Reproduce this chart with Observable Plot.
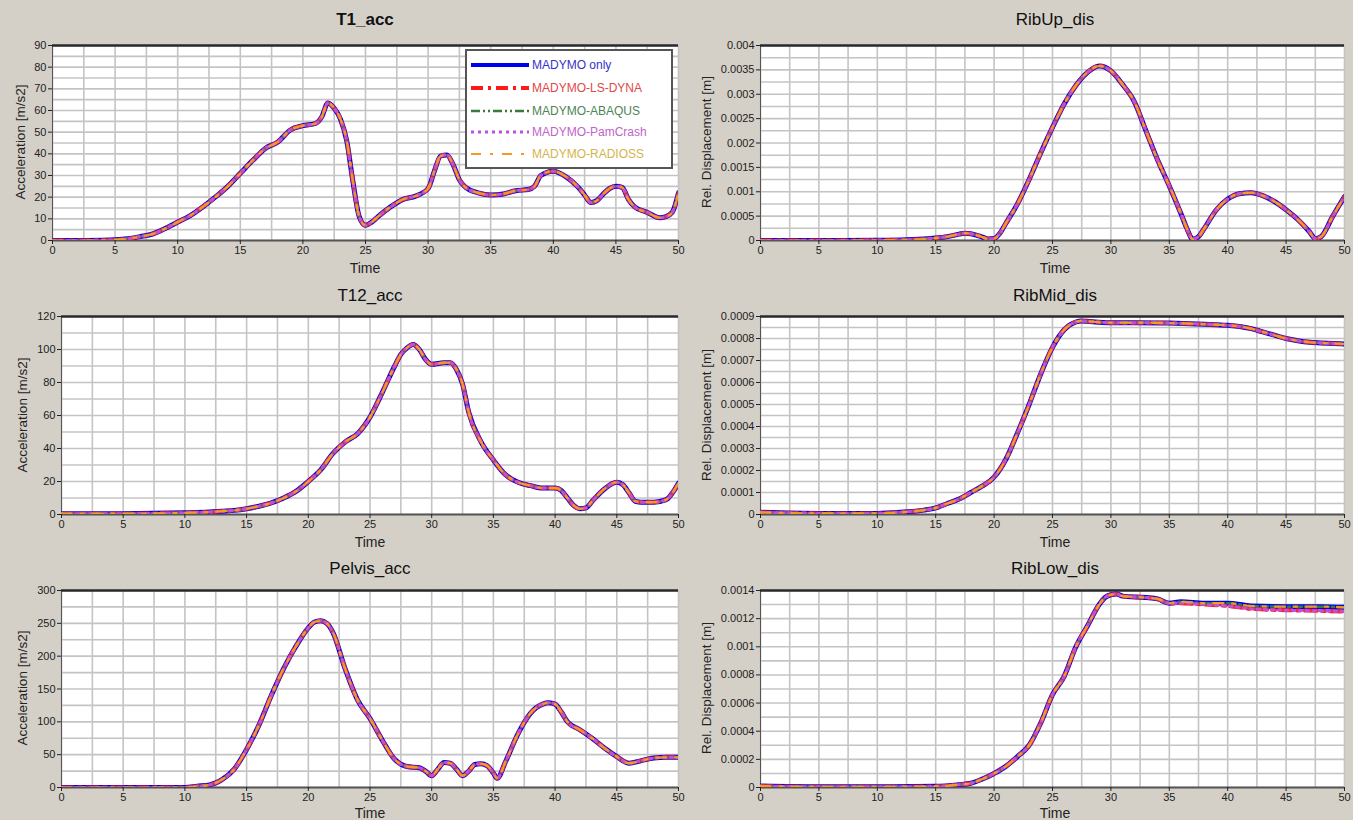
<!DOCTYPE html>
<html><head><meta charset="utf-8">
<script src="https://cdn.jsdelivr.net/npm/d3@7"></script>
<script src="https://cdn.jsdelivr.net/npm/@observablehq/plot@0.6"></script>
<style>
html,body{margin:0;padding:0;overflow:hidden;background:#d4d0c8;}
#root{position:relative;width:1353px;height:820px;overflow:hidden;background:#d4d0c8;font-family:"Liberation Sans",Arial,sans-serif;}
.title{position:absolute;font-size:17px;color:#111;transform:translate(-50%,-50%);white-space:nowrap;}
.xl{position:absolute;font-size:14px;color:#222;transform:translate(-50%,-50%);white-space:nowrap;}
.yl{position:absolute;font-size:13.5px;color:#222;transform:translate(-50%,-50%) rotate(-90deg);white-space:nowrap;}
.legend{position:absolute;background:#fff;border:2px solid #555;box-sizing:border-box;}
.lrow{position:absolute;left:2px;height:14px;display:flex;align-items:center;}
.lrow span{font-size:12px;margin-left:3px;white-space:nowrap;}
</style></head><body><div id="root"></div>
<script>
// ---------- series ----------
const seriesNames = ["MADYMO only", "MADYMO-LS-DYNA", "MADYMO-ABAQUS", "MADYMO-PamCrash", "MADYMO-RADIOSS"];
const seriesColors = ["#0000f0", "#ff1a1a", "#3a7a3a", "#c050d8", "#f59a20"];
const legendTextColors = ["#3333c8", "#e04848", "#4d8455", "#c064c8", "#d4b44a"];
const seriesDash = [null, "12,5,3,5", "9,3,2,3,2,3", "3,4", "10,9,3,9"];
const seriesWidth = [5, 4, 2.5, 3, 2.2];

// ---------- tick labels ----------
const timeTicks = [0, 5, 10, 15, 20, 25, 30, 35, 40, 45, 50];
const t1Ticks = [0, 10, 20, 30, 40, 50, 60, 70, 80, 90];
const t12Ticks = [0, 20, 40, 60, 80, 100, 120];
const pelvisTicks = [0, 50, 100, 150, 200, 250, 300];
const ribUpTicks = [0, 0.0005, 0.001, 0.0015, 0.002, 0.0025, 0.003, 0.0035, 0.004];
const ribMidTicks = [0, 0.0001, 0.0002, 0.0003, 0.0004, 0.0005, 0.0006, 0.0007, 0.0008, 0.0009];
const ribLowTicks = [0, 0.0002, 0.0004, 0.0006, 0.0008, 0.001, 0.0012, 0.0014];

// ---------- values [time, value] ----------
const t1Acc = [[0,0],[2,0],[4,0.1],[5,0.3],[6,0.8],[7,1.8],[8,3],[9,5.5],[10,8.5],[11,11.5],[12,15.5],[13,20],[14,25],[15,31],[16,37],[17,42.5],[18,45.5],[19,51],[20,53],[21,54],[21.5,57],[22,63.5],[22.5,61],[23,56],[23.5,46],[24,27],[24.5,11],[25,7],[25.5,8.5],[26,11],[27,15.5],[28,19],[29,20.5],[30,24],[30.5,32],[31,39],[31.5,39.5],[32,35],[32.5,28],[33,24.5],[34,22],[35,21],[36,21.5],[37,23],[38,23.5],[38.5,25],[39,30],[40,32],[41,29.5],[42,24.5],[42.5,21],[43,17.5],[43.5,18.5],[44,21.5],[44.5,24],[45,25],[45.5,24.5],[46,19],[46.5,15.5],[47.5,13],[48.5,10.5],[49,11],[49.5,13],[50,22]];
const ribUpDis = [[0,0],[5,0],[10,0.000005],[12,0.00001],[14,0.00003],[15,0.00005],[16,0.00008],[17,0.00013],[17.5,0.00015],[18,0.00014],[19,0.00007],[19.5,0.00003],[20,0.00004],[20.5,0.00015],[21,0.00035],[22,0.00075],[23,0.00125],[24,0.0018],[25,0.00232],[26,0.0028],[27,0.00318],[28,0.00345],[29,0.00358],[30,0.00348],[31,0.0032],[32,0.00285],[33,0.00225],[34,0.00165],[35,0.00112],[36,0.00055],[36.5,0.00025],[37,0.00003],[37.5,0.00008],[38,0.00025],[39,0.00062],[40,0.00085],[41,0.00096],[42,0.00098],[43,0.00092],[44,0.0008],[45,0.00063],[46,0.00043],[47,0.00018],[47.5,0.00004],[48,0.00008],[49,0.0005],[50,0.0009]];
const t12Acc = [[0,0.5],[5,0.5],[10,1],[12,1.5],[13,2],[14,2.5],[15,3.5],[16,5],[17,7],[18,10],[19,14],[20,20],[21,27],[22,37],[23,44],[24,49],[25,59],[26,74],[27,90],[27.5,97],[28,101],[28.5,103],[29,100],[29.5,94],[30,91],[31,92],[31.5,92],[32,88],[32.5,79],[33,62],[34,44],[35,33],[36,24],[37,19.5],[38,17.5],[39,16],[40,16],[40.5,14.5],[41,10],[41.5,5.5],[42,3.5],[42.5,4],[43,8],[44,15.5],[45,19.5],[45.5,18],[46,13],[46.5,8],[47,7.5],[48,7.5],[49,9],[49.5,13],[50,19]];
const ribMidDis = [[0,0.00001],[5,0.000005],[10,0.000005],[12,0.00001],[14,0.00002],[15,0.00003],[16,0.00005],[17,0.00007],[18,0.0001],[19,0.00013],[20,0.00017],[21,0.00025],[22,0.00037],[23,0.0005],[24,0.00064],[25,0.00076],[26,0.00084],[27,0.000875],[27.5,0.00088],[28,0.000878],[30,0.000872],[32,0.000872],[35,0.00087],[38,0.000865],[40,0.00086],[41,0.000855],[42,0.000845],[43,0.00083],[44,0.000815],[45,0.0008],[46,0.00079],[47,0.000783],[48,0.00078],[50,0.000775]];
const pelvisAcc = [[0,0],[5,0],[10,0],[11,2],[12,4],[12.5,7],[13,12],[14,28],[15,58],[16,95],[17,140],[18,181],[19,215],[20,243],[20.5,252],[21,254],[21.5,250],[22,236],[23,180],[24,133],[25,105],[26,72],[27,43],[28,32],[29,30],[29.5,25],[30,18],[30.5,28],[31,38],[31.5,37],[32,28],[32.5,18],[33,25],[33.5,35],[34,36],[34.5,33],[35,22],[35.3,14],[36,40],[37,82],[38,113],[39,127],[39.5,129],[40,127],[40.5,115],[41,100],[42,88],[43,75],[44,60],[45,47],[46,37],[47,41],[48,45],[49,46],[50,46]];
const ribLowDis = [[0,0.00001],[5,0.000005],[10,0.000005],[15,0.000008],[17,0.00002],[18,0.00003],[19,0.00006],[20,0.0001],[21,0.00015],[22,0.00022],[23,0.0003],[24,0.00046],[25,0.00066],[26,0.00079],[27,0.001],[28,0.00115],[29,0.0013],[29.5,0.00135],[30,0.00137],[30.5,0.001375],[31,0.00136],[33,0.00135],[34,0.00134],[35,0.00131],[36,0.00132],[38,0.00131],[40,0.00131],[42,0.00129],[45,0.001285],[48,0.001285],[50,0.00128]];
const ribLowDisLower = [[0,0.00001],[5,0.000005],[10,0.000005],[15,0.000008],[17,0.00002],[18,0.00003],[19,0.00006],[20,0.0001],[21,0.00015],[22,0.00022],[23,0.0003],[24,0.00046],[25,0.00066],[26,0.00079],[27,0.001],[28,0.00115],[29,0.0013],[29.5,0.00135],[30,0.00137],[30.5,0.001375],[31,0.00136],[33,0.00135],[34,0.00134],[35,0.00131],[36,0.00131],[38,0.0013],[40,0.00129],[42,0.00127],[45,0.00126],[48,0.001255],[50,0.00125]];

const panels = [
  {title:"T1_acc", bold:true, left:52, top:45, w:626, h:195, yMax:90, grid:5, ticks:t1Ticks, ylab:"Acceleration [m/s2]", tx:365, ty:20, xlx:365, xly:268, ylx:20, yly:142, series:[t1Acc,t1Acc,t1Acc,t1Acc,t1Acc]},
  {title:"RibUp_dis", left:760, top:45, w:584, h:195, yMax:0.004, grid:0.00025, ticks:ribUpTicks, ylab:"Rel. Displacement [m]", tx:1055, ty:20, xlx:1055, xly:268, ylx:706, yly:142, series:[ribUpDis,ribUpDis,ribUpDis,ribUpDis,ribUpDis]},
  {title:"T12_acc", left:61, top:316, w:617, h:198, yMax:120, grid:10, ticks:t12Ticks, ylab:"Acceleration [m/s2]", tx:370, ty:296, xlx:370, xly:542, ylx:22, yly:415, series:[t12Acc,t12Acc,t12Acc,t12Acc,t12Acc]},
  {title:"RibMid_dis", left:760, top:316, w:584, h:198, yMax:0.0009, grid:0.00005, ticks:ribMidTicks, ylab:"Rel. Displacement [m]", tx:1055, ty:296, xlx:1055, xly:542, ylx:706, yly:415, series:[ribMidDis,ribMidDis,ribMidDis,ribMidDis,ribMidDis]},
  {title:"Pelvis_acc", left:61, top:590, w:617, h:197, yMax:300, grid:25, ticks:pelvisTicks, ylab:"Acceleration [m/s2]", tx:370, ty:569, xlx:370, xly:813, ylx:22, yly:688, series:[pelvisAcc,pelvisAcc,pelvisAcc,pelvisAcc,pelvisAcc]},
  {title:"RibLow_dis", left:760, top:590, w:584, h:197, yMax:0.0014, grid:0.0001, ticks:ribLowTicks, ylab:"Rel. Displacement [m]", tx:1055, ty:569, xlx:1055, xly:813, ylx:706, yly:688, series:[ribLowDis,ribLowDisLower,ribLowDis,ribLowDisLower,ribLowDis]}
];

const root = document.getElementById("root");
function addDiv(cls, text, x, y, extra) {
  const d = document.createElement("div");
  d.className = cls; d.textContent = text;
  d.style.left = x + "px"; d.style.top = y + "px";
  if (extra) Object.assign(d.style, extra);
  root.appendChild(d);
  return d;
}

const ML = 52, MR = 8, MT = 4, MB = 24;
for (const p of panels) {
  const lines = seriesNames.map((name, si) => {
    const rows = p.series[si].map(([t, v]) => ({t, v, s: name}));
    const o = {x: "t", y: "v", stroke: seriesColors[si], strokeWidth: seriesWidth[si], curve: "monotone-x", clip: true};
    if (seriesDash[si]) o.strokeDasharray = seriesDash[si];
    return Plot.line(rows, o);
  });
  const svg = Plot.plot({
    width: ML + p.w + MR, height: MT + p.h + MB,
    marginLeft: ML, marginRight: MR, marginTop: MT, marginBottom: MB,
    x: {domain: [0, 50]},
    y: {domain: [0, p.yMax]},
    style: {background: "transparent", fontFamily: '"Liberation Sans", Arial, sans-serif', color: "#222", maxWidth: "none", overflow: "visible"},
    marks: [
      Plot.frame({fill: "white", stroke: "none"}),
      Plot.gridX(d3.range(0, 50.001, 2.5), {stroke: "#c4c4c4", strokeOpacity: 1, strokeWidth: 1.6}),
      Plot.gridY(d3.range(0, p.yMax + p.grid / 2, p.grid), {stroke: "#c4c4c4", strokeOpacity: 1, strokeWidth: 1.6}),
      Plot.ruleX([0], {stroke: "#555", strokeWidth: 1}),
      Plot.ruleY([p.yMax], {stroke: "#2a2a2a", strokeWidth: 2.5}),
      Plot.ruleY([0], {stroke: "#555", strokeWidth: 2}),
      ...lines,
      Plot.axisX({ticks: timeTicks, tickSize: 4, tickPadding: 2, fontSize: 11, label: null, tickFormat: d => String(d)}),
      Plot.axisY({ticks: p.ticks, tickSize: 4, tickPadding: 2, fontSize: 11, label: null, tickFormat: d => String(d)})
    ]
  });
  svg.style.position = "absolute";
  svg.style.left = (p.left - ML) + "px";
  svg.style.top = (p.top - MT) + "px";
  root.appendChild(svg);
  addDiv("title", p.title, p.tx, p.ty, p.bold ? {fontWeight: "bold"} : null);
  addDiv("xl", "Time", p.xlx, p.xly);
  addDiv("yl", p.ylab, p.ylx, p.yly);
}

// ---------- legend (inside T1_acc) ----------
const lg = document.createElement("div");
lg.className = "legend";
Object.assign(lg.style, {left: "465px", top: "49px", width: "208px", height: "120px"});
const rowY = [7, 30, 53, 74, 96];
seriesNames.forEach((name, si) => {
  const r = document.createElement("div");
  r.className = "lrow"; r.style.top = rowY[si] + "px";
  const ns = "http://www.w3.org/2000/svg";
  const s = document.createElementNS(ns, "svg");
  s.setAttribute("width", "60"); s.setAttribute("height", "14");
  const l = document.createElementNS(ns, "line");
  l.setAttribute("x1", "2"); l.setAttribute("x2", "60"); l.setAttribute("y1", "7"); l.setAttribute("y2", "7");
  l.setAttribute("stroke", seriesColors[si]); l.setAttribute("stroke-width", Math.min(seriesWidth[si], 4));
  if (seriesDash[si]) l.setAttribute("stroke-dasharray", seriesDash[si]);
  s.appendChild(l);
  const t = document.createElement("span");
  t.textContent = name; t.style.color = legendTextColors[si];
  r.appendChild(s); r.appendChild(t);
  lg.appendChild(r);
});
root.appendChild(lg);
</script></body></html>
